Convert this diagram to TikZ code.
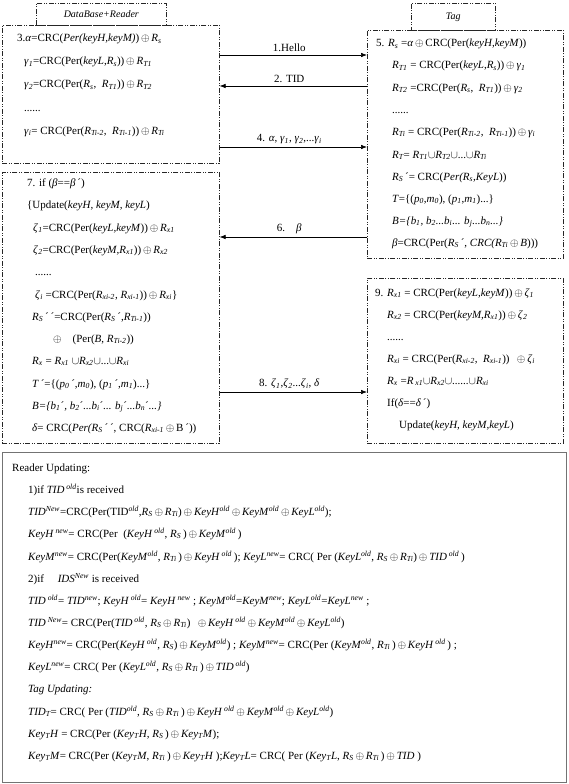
\documentclass[tikz,border=0pt]{standalone}
\usepackage{fontspec}
\setmainfont{Liberation Serif}
\usetikzlibrary{arrows.meta}

\newcommand{\iv}[1]{\textit{#1}}
\newcommand{\subs}[1]{\textsubscript{\itshape #1}}
\newcommand{\sups}[1]{\textsuperscript{\itshape #1}}
\newcommand{\xor}{\,$\oplus$\,}
\newcommand{\uni}{$\cup$}

\tikzset{
  dbox/.style={draw=black!85, line width=0.6pt, anchor=north west, inner sep=0pt,
    dash pattern=on 5pt off 1.5pt on 1pt off 1.5pt on 1pt off 1.5pt},
  ubox/.style={draw=black!55, line width=1.2pt, anchor=north west, inner sep=0pt},
  ln/.style={anchor=base west, inner sep=0pt},
  msg/.style={-{Latex[length=6pt,width=4.5pt]}, line width=0.6pt},
  lbl/.style={midway, above=3pt, xshift=-4pt, inner sep=0pt},
}

\begin{document}
\begin{tikzpicture}[x=1pt, y=-1pt, font=\fontsize{11}{13}\selectfont]
  \useasboundingbox (0,0) rectangle (568,784);

  % Boxes
  \node[dbox, minimum width=130pt, minimum height=22pt, font=\itshape] (dbhead) at (36,3) {DataBase+Reader};
  \node[dbox, minimum width=84pt, minimum height=27pt, font=\itshape] (taghead) at (411,3) {Tag};
  \node[dbox, minimum width=217pt, minimum height=138pt] (reader1) at (2,25) {};
  \node[dbox, minimum width=196pt, minimum height=228pt] (tag1) at (367,30) {};
  \node[dbox, minimum width=217pt, minimum height=271pt] (reader2) at (2,172) {};
  \node[dbox, minimum width=196pt, minimum height=165pt] (tag2) at (367,278) {};
  \node[ubox, minimum width=564pt, minimum height=330pt] (update) at (2,452) {};

  % Messages
  \coordinate (m1) at (0,55);
  \coordinate (m2) at (0,86);
  \coordinate (m4) at (0,147);
  \coordinate (m6) at (0,237);
  \coordinate (m8) at (0,392);
  \draw[msg] (reader1.east |- m1) -- (tag1.west |- m1) node[lbl] {1.Hello};
  \draw[msg] (tag1.west |- m2) -- (reader1.east |- m2) node[lbl] {2. TID};
  \draw[msg] (reader1.east |- m4) -- (tag1.west |- m4)
    node[lbl] {4. \iv{α}, \iv{γ}\subs{1}, \iv{γ}\subs{2},...\iv{γ}\subs{i}};
  \draw[msg] (tag1.west |- m6) -- (reader2.east |- m6) node[lbl] {6.\quad\iv{β}};
  \draw[msg] (reader2.east |- m8) -- (tag2.west |- m8)
    node[lbl] {8. \iv{ζ}\subs{1},\iv{ζ}\subs{2}...\iv{ζ}\subs{i}, \iv{δ}};

  % Reader, step 3
  \node[ln] (r1a) at (17,42) {3.\iv{α}=CRC(\iv{Per(keyH,keyM)})\xor\iv{R}\subs{s}};
  \node[ln] (r1b) at (24,65) {\iv{γ}\subs{1}=CRC(Per(\iv{keyL},\iv{R}\subs{s}))\xor\iv{R}\subs{T1}};
  \node[ln] (r1c) at (24,88) {\iv{γ}\subs{2}=CRC(Per(\iv{R}\subs{s}, \ \iv{R}\subs{T1}))\xor\iv{R}\subs{T2}};
  \node[ln] (r1d) at (24,111) {......};
  \node[ln] (r1e) at (24,134) {\iv{γ}\subs{i}= CRC(Per(\iv{R}\subs{Ti-2}, \ \iv{R}\subs{Ti-1}))\xor\iv{R}\subs{Ti}};

  % Tag, step 5
  \node[ln] (t1a) at (376,47) {5. \iv{R}\subs{s} =\iv{α}\xor CRC(Per(\iv{keyH,keyM}))};
  \node[ln] (t1b) at (392,69) {\iv{R}\subs{T1} = CRC(Per(\iv{keyL},\iv{R}\subs{s}))\xor\iv{γ}\subs{1}};
  \node[ln] (t1c) at (392,91) {\iv{R}\subs{T2} =CRC(Per(\iv{R}\subs{s}, \ \iv{R}\subs{T1}))\xor\iv{γ}\subs{2}};
  \node[ln] (t1d) at (392,113) {......};
  \node[ln] (t1e) at (392,135) {\iv{R}\subs{Ti} = CRC(Per(\iv{R}\subs{Ti-2}, \ \iv{R}\subs{Ti-1}))\xor\iv{γ}\subs{i}};
  \node[ln] (t1f) at (392,158) {\iv{R}\subs{T}= \iv{R}\subs{T1}\uni\iv{R}\subs{T2}\uni...\uni\iv{R}\subs{Ti}};
  \node[ln] (t1g) at (392,180) {\iv{R}\subs{S}\,´= CRC(\iv{Per(R}\subs{s}\iv{,KeyL}))};
  \node[ln] (t1h) at (392,202) {\iv{T}=\{(\iv{p}\subs{0},\iv{m}\subs{0}), (\iv{p}\subs{1},\iv{m}\subs{1})...\}};
  \node[ln] (t1i) at (392,224) {\iv{B=\{b}\subs{1}\iv{, b}\subs{2}\iv{...b}\subs{i}\iv{... b}\subs{j}\iv{...b}\subs{n}\iv{...\}}};
  \node[ln] (t1j) at (392,246) {\iv{β}=CRC(Per(\iv{R}\subs{S}\,´, \iv{CRC(R}\subs{Ti}\xor\iv{B})))};

  % Reader, step 7
  \node[ln] (r2a) at (27,186) {7. if (\iv{β}==\iv{β}\,´)};
  \node[ln] (r2b) at (27,208) {\{Update(\iv{keyH, keyM, keyL})};
  \node[ln] (r2c) at (33,231) {\iv{ζ}\subs{1}=CRC(Per(\iv{keyL,keyM}))\xor\iv{R}\subs{x1}};
  \node[ln] (r2d) at (33,253) {\iv{ζ}\subs{2}=CRC(Per(\iv{keyM,R}\subs{x1}))\xor\iv{R}\subs{x2}};
  \node[ln] (r2e) at (35,275) {......};
  \node[ln] (r2f) at (35,298) {\iv{ζ}\subs{i} =CRC(Per(\iv{R}\subs{xi-2}, \iv{R}\subs{xi-1}))\xor\iv{R}\subs{xi}\}};
  \node[ln] (r2g) at (32,320) {\iv{R}\subs{S}\,´\,´=CRC(Per(\iv{R}\subs{S}\,´,\iv{R}\subs{Ti-1}))};
  \node[ln] (r2h) at (53,342) {$\oplus$\quad(Per(\iv{B}, \iv{R}\subs{Ti-2}))};
  \node[ln] (r2i) at (32,364) {\iv{R}\subs{x} = \iv{R}\subs{x1}\ \uni\iv{R}\subs{x2}\uni...\uni\iv{R}\subs{xi}};
  \node[ln] (r2j) at (32,387) {\iv{T}\,´=\{(\iv{p}\subs{0}\,´,\iv{m}\subs{0}), (\iv{p}\subs{1}\,´,\iv{m}\subs{1})...\}};
  \node[ln] (r2k) at (32,409) {\iv{B=\{b}\subs{1}´\iv{, b}\subs{2}´\iv{...b}\subs{i}´\iv{... b}\subs{j}´\iv{...b}\subs{n}´\iv{...\}}};
  \node[ln] (r2l) at (32,431) {\iv{δ}= CRC(\iv{Per(R}\subs{S}\,´\,´, CRC(\iv{R}\subs{xi-1}\xor B\,´))};

  % Tag, step 9
  \node[ln] (t2a) at (375,296) {9. \iv{R}\subs{x1} = CRC(Per(\iv{keyL,keyM}))\xor\iv{ζ}\subs{1}};
  \node[ln] (t2b) at (387,318) {\iv{R}\subs{x2} = CRC(Per(\iv{keyM,R}\subs{x1}))\xor\iv{ζ}\subs{2}};
  \node[ln] (t2c) at (387,340) {......};
  \node[ln] (t2d) at (387,362) {\iv{R}\subs{xi} = CRC(Per(\iv{R}\subs{xi-2}, \ \iv{R}\subs{xi-1}))\ \ \xor\iv{ζ}\subs{i}};
  \node[ln] (t2e) at (387,384) {\iv{R}\subs{x} =\iv{R}\,\subs{x1}\uni\iv{R}\subs{x2}\uni......\uni\iv{R}\subs{xi}};
  \node[ln] (t2f) at (387,406) {If(\iv{δ}==\iv{δ}\,´)};
  \node[ln] (t2g) at (399,428) {Update(\iv{keyH, keyM,keyL})};

  % Updating
  \node[ln] (u1) at (12,471) {Reader Updating:};
  \node[ln] (u2) at (28,493) {1)if \iv{TID}\,\sups{old}is received};
  \node[ln] (u3) at (28,515) {\iv{TID}\sups{New}=CRC(Per(TID\sups{old},\iv{R}\subs{S}\xor\iv{R}\subs{Ti})\xor\iv{KeyH}\sups{old}\xor\iv{KeyM}\sups{old}\xor\iv{KeyL}\sups{old});};
  \node[ln] (u4) at (28,537) {\iv{KeyH}\,\sups{new}= CRC(Per \ (\iv{KeyH}\,\sups{old}, \iv{R}\subs{S}\,)\xor\iv{KeyM}\sups{old}\,)};
  \node[ln] (u5) at (28,560) {\iv{KeyM}\sups{new}= CRC(Per(\iv{KeyM}\sups{old}, \iv{R}\subs{Ti}\,)\xor\iv{KeyH}\,\sups{old}\,); \iv{KeyL}\sups{new}= CRC( Per (\iv{KeyL}\sups{old}, \iv{R}\subs{S}\xor\iv{R}\subs{Ti})\xor\iv{TID}\,\sups{old}\,)};
  \node[ln] (u6) at (28,582) {2)if \quad\iv{IDS}\sups{New} is received};
  \node[ln] (u7) at (28,604) {\iv{TID}\,\sups{old}= \iv{TID}\sups{new}; \iv{KeyH}\,\sups{old}= \iv{KeyH}\,\sups{new} ; \iv{KeyM}\sups{old}=\iv{KeyM}\sups{new}; \iv{KeyL}\sups{old}=\iv{KeyL}\sups{new} ;};
  \node[ln] (u8) at (28,626) {\iv{TID}\,\sups{New}= CRC(Per(\iv{TID}\,\sups{old}, \iv{R}\subs{S}\xor\iv{R}\subs{Ti})\ \ \xor\iv{KeyH}\,\sups{old}\xor\iv{KeyM}\sups{old}\xor\iv{KeyL}\sups{old})};
  \node[ln] (u9) at (28,648) {\iv{KeyH}\sups{new}= CRC(Per(\iv{KeyH}\,\sups{old}, \iv{R}\subs{S})\xor\iv{KeyM}\sups{old}) ; \iv{KeyM}\sups{new}= CRC(Per (\iv{KeyM}\sups{old}, \iv{R}\subs{Ti}\,)\xor\iv{KeyH}\,\sups{old}\,) ;};
  \node[ln] (u10) at (28,670) {\iv{KeyL}\sups{new}= CRC( Per (\iv{KeyL}\sups{old}, \iv{R}\subs{S}\xor\iv{R}\subs{Ti}\,)\xor\iv{TID}\,\sups{old})};
  \node[ln] (u11) at (28,692) {\iv{Tag Updating:}};
  \node[ln] (u12) at (28,715) {\iv{TID}\subs{T}= CRC( Per (\iv{TID}\sups{old}, \iv{R}\subs{S}\xor\iv{R}\subs{Ti}\,)\xor\iv{KeyH}\,\sups{old}\xor\iv{KeyM}\sups{old}\xor\iv{KeyL}\sups{old})};
  \node[ln] (u13) at (28,737) {\iv{Key}\subs{T}\iv{H} = CRC(Per (\iv{Key}\subs{T}\iv{H}, \iv{R}\subs{S}\,)\xor\iv{Key}\subs{T}\iv{M});};
  \node[ln] (u14) at (28,759) {\iv{Key}\subs{T}\iv{M}= CRC(Per (\iv{Key}\subs{T}\iv{M}, \iv{R}\subs{Ti}\,)\xor\iv{Key}\subs{T}\iv{H} );\iv{Key}\subs{T}\iv{L}= CRC( Per (\iv{Key}\subs{T}\iv{L}, \iv{R}\subs{S}\xor\iv{R}\subs{Ti}\,)\xor\iv{TID} )};
\end{tikzpicture}
\end{document}
